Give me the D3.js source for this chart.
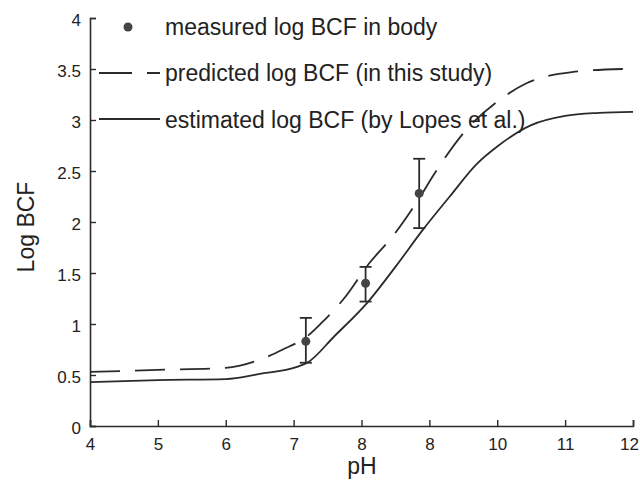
<!DOCTYPE html>
<html>
<head>
<meta charset="utf-8">
<script src="https://cdn.jsdelivr.net/npm/d3@7"></script>
<style>
  body { margin: 0; background: #fff; }
  svg { display: block; font-family: "Liberation Sans", Arial, sans-serif; }
</style>
</head>
<body>
<svg id="chart" width="640" height="480"></svg>
<script>
// estimated log BCF (by Lopes et al.) - solid
var phSolid = [4, 5, 6, 6.5, 7.05, 7.2, 7.6, 8.1, 8.5, 8.9, 9.3, 9.7, 10.0, 10.5, 11, 11.5, 12];
var logSolid = [0.43, 0.45, 0.46, 0.51, 0.58, 0.62, 0.88, 1.22, 1.56, 1.92, 2.25, 2.57, 2.74, 2.95, 3.04, 3.07, 3.08];

// predicted log BCF (in this study) - dashed
var phDash = [4, 5, 6, 6.5, 6.84, 7.2, 7.41, 7.73, 8.12, 8.46, 8.81, 9.1, 9.5, 10.04, 10.43, 11.1, 11.85];
var logDash = [0.53, 0.55, 0.57, 0.65, 0.75, 0.88, 1.01, 1.24, 1.6, 1.86, 2.19, 2.5, 2.87, 3.2, 3.36, 3.47, 3.5];

// measured log BCF in body
var phMeasured = [7.18, 8.06, 8.85];
var logMeasured = [0.83, 1.40, 2.28];
var errLow = [0.62, 1.22, 1.94];
var errHigh = [1.06, 1.56, 2.62];

var xTicks = [4, 5, 6, 7, 8, 9, 10, 11, 12];
var xTickLabels = ["4", "5", "6", "7", "8", "8", "10", "11", "12"];
var yTicks = [0, 0.5, 1, 1.5, 2, 2.5, 3, 3.5, 4];
var yTickLabels = ["0", "0.5", "1", "1.5", "2", "2.5", "3", "3.5", "4"];

var legendLabels = ["measured log BCF in body", "predicted log BCF (in this study)", "estimated log BCF (by Lopes et al.)"];

var ink = "#2b2b2b";
var svg = d3.select("#chart");

var x = d3.scaleLinear().domain([4, 12]).range([90, 633]);
var y = d3.scaleLinear().domain([0, 4]).range([426, 18]);

// axes
var xAxis = d3.axisBottom(x)
  .tickValues(xTicks)
  .tickSize(-6)
  .tickPadding(12)
  .tickFormat(function(d, i) { return xTickLabels[i]; });
var gx = svg.append("g").attr("transform", "translate(0," + y(0) + ")").call(xAxis);

var yAxis = d3.axisLeft(y)
  .tickValues(yTicks)
  .tickSize(-6)
  .tickPadding(9)
  .tickFormat(function(d, i) { return yTickLabels[i]; });
var gy = svg.append("g").attr("transform", "translate(" + x(4) + ",0)").call(yAxis);

[gx, gy].forEach(function(g) {
  g.select(".domain").attr("stroke", ink).attr("stroke-width", 1.6);
  g.selectAll(".tick line").attr("stroke", ink).attr("stroke-width", 1.4);
  g.selectAll(".tick text").attr("fill", "#222").style("font-size", "17px");
});
gy.selectAll(".tick text").attr("dy", "0.45em");
// keep the last x label inside the frame
gx.selectAll(".tick text").filter(function(d) { return d === 12; }).attr("dx", "-4");

// axis titles
svg.append("text")
  .attr("x", 362).attr("y", 474)
  .attr("text-anchor", "middle")
  .attr("fill", "#222").style("font-size", "23px")
  .text("pH");
svg.append("text")
  .attr("transform", "translate(34,227) rotate(-90)")
  .attr("text-anchor", "middle")
  .attr("fill", "#222").style("font-size", "23px")
  .text("Log BCF");

// curves
var line = d3.line()
  .x(function(d) { return x(d[0]); })
  .y(function(d) { return y(d[1]); })
  .curve(d3.curveMonotoneX);

svg.append("path")
  .datum(d3.zip(phSolid, logSolid))
  .attr("d", line)
  .attr("fill", "none").attr("stroke", ink).attr("stroke-width", 1.8);

svg.append("path")
  .datum(d3.zip(phDash, logDash))
  .attr("d", line)
  .attr("fill", "none").attr("stroke", ink).attr("stroke-width", 1.8)
  .attr("stroke-dasharray", "30,15");

// measured points with error bars
var pts = svg.append("g").selectAll("g")
  .data(d3.range(phMeasured.length))
  .enter().append("g");

pts.append("line")
  .attr("x1", function(i) { return x(phMeasured[i]); })
  .attr("x2", function(i) { return x(phMeasured[i]); })
  .attr("y1", function(i) { return y(errLow[i]); })
  .attr("y2", function(i) { return y(errHigh[i]); })
  .attr("stroke", ink).attr("stroke-width", 1.8);

[errLow, errHigh].forEach(function(arr) {
  pts.append("line")
    .attr("x1", function(i) { return x(phMeasured[i]) - 6; })
    .attr("x2", function(i) { return x(phMeasured[i]) + 6; })
    .attr("y1", function(i) { return y(arr[i]); })
    .attr("y2", function(i) { return y(arr[i]); })
    .attr("stroke", ink).attr("stroke-width", 1.8);
});

pts.append("circle")
  .attr("cx", function(i) { return x(phMeasured[i]); })
  .attr("cy", function(i) { return y(logMeasured[i]); })
  .attr("r", 4.5)
  .attr("fill", "#444");

// legend
var legendY = [27, 73, 120];
var leg = svg.append("g");
leg.append("circle").attr("cx", 128).attr("cy", legendY[0]).attr("r", 4.5).attr("fill", "#444");
leg.append("line")
  .attr("x1", 99).attr("x2", 160).attr("y1", legendY[1]).attr("y2", legendY[1])
  .attr("stroke", ink).attr("stroke-width", 1.8).attr("stroke-dasharray", "33,15");
leg.append("line")
  .attr("x1", 99).attr("x2", 160).attr("y1", legendY[2] - 1).attr("y2", legendY[2] - 1)
  .attr("stroke", ink).attr("stroke-width", 1.8);
leg.selectAll("text")
  .data(legendLabels)
  .enter().append("text")
  .attr("x", 165)
  .attr("y", function(d, i) { return legendY[i]; })
  .attr("dy", "0.35em")
  .attr("fill", "#222").style("font-size", "23px")
  .text(function(d) { return d; });
</script>
</body>
</html>
